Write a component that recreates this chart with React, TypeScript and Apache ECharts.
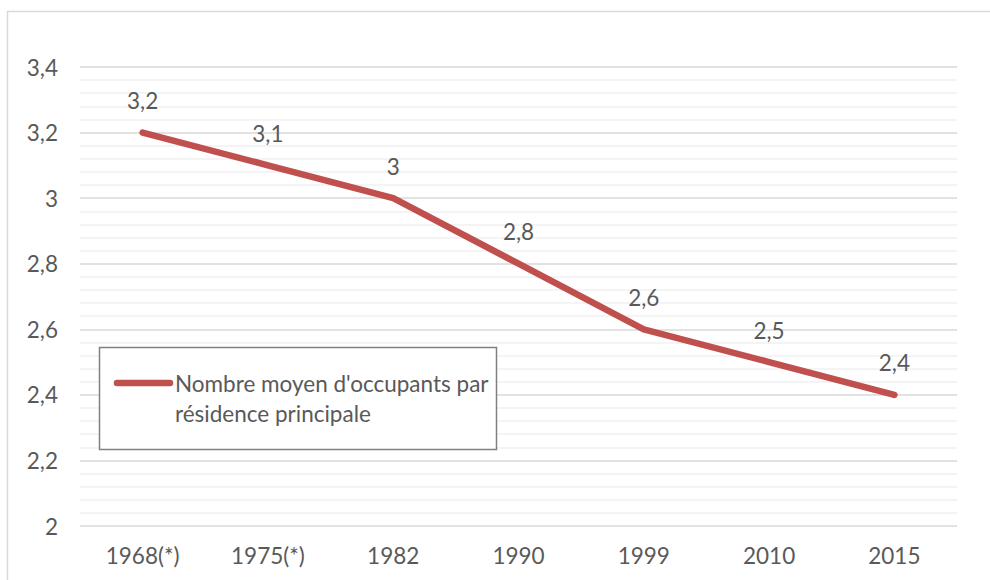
import React, { useEffect, useRef } from "react";
import * as echarts from "echarts";

const categories = ["1968(*)", "1975(*)", "1982", "1990", "1999", "2010", "2015"];
const occupants = [3.2, 3.1, 3.0, 2.8, 2.6, 2.5, 2.4];
const seriesName = "Nombre moyen d'occupants par résidence principale";
const legendLines = ["Nombre moyen d'occupants par", "résidence principale"];
const yTicks = { min: 2, max: 3.4, interval: 0.2 };

const FONT = "Lato, 'Open Sans', sans-serif";
const FS = 22.5;
const TXT = "#595959";
const RED = "#C0504D";
const fmt = (v: number) => String(Math.round(v * 10) / 10).replace(".", ",");

export default function App() {
  const ref = useRef<HTMLDivElement>(null);
  useEffect(() => {
    const chart = echarts.init(ref.current!, null, { renderer: "svg" });
    chart.setOption({
      animation: false,
      backgroundColor: "#ffffff",
      textStyle: { fontFamily: FONT },
      grid: { left: 80, right: 33, top: 67, bottom: 54, containLabel: false },
      legend: { show: false, data: [seriesName] },
      graphic: [
        {
          type: "rect",
          shape: { x: 7.5, y: 11.5, width: 1000, height: 600 },
          style: { fill: "none", stroke: "#d9d9d9", lineWidth: 1.5 },
          z: 0,
        },
        {
          type: "group",
          z: 20,
          children: [
            {
              type: "rect",
              shape: { x: 99.5, y: 347.5, width: 397, height: 102 },
              style: { fill: "#ffffff", stroke: "#808080", lineWidth: 1.5 },
              z: 20,
            },
            {
              type: "line",
              shape: { x1: 117, y1: 383, x2: 170, y2: 383 },
              style: { stroke: RED, lineWidth: 6.5, lineCap: "round" },
              z: 21,
            },
            {
              type: "text",
              x: 175,
              y: 383,
              style: {
                text: legendLines[0],
                fontFamily: FONT,
                fontSize: FS,
                fill: TXT,
                verticalAlign: "middle",
                align: "left",
              },
              z: 21,
            },
            {
              type: "text",
              x: 175,
              y: 413,
              style: {
                text: legendLines[1],
                fontFamily: FONT,
                fontSize: FS,
                fill: TXT,
                verticalAlign: "middle",
                align: "left",
              },
              z: 21,
            },
          ],
        },
      ],
      xAxis: {
        type: "category",
        data: categories,
        boundaryGap: true,
        axisLine: { show: false },
        axisTick: { show: false },
        axisLabel: { color: TXT, fontSize: FS, fontFamily: FONT, margin: 18 },
      },
      yAxis: {
        type: "value",
        min: yTicks.min,
        max: yTicks.max,
        interval: yTicks.interval,
        axisLine: { show: false },
        axisTick: { show: false },
        axisLabel: { color: TXT, fontSize: FS, fontFamily: FONT, margin: 22, formatter: fmt },
        splitLine: { show: true, lineStyle: { color: "#d9d9d9", width: 1.5 } },
        minorTick: { show: false, splitNumber: 5 },
        minorSplitLine: { show: true, lineStyle: { color: "#f0f0f0", width: 1.5 } },
      },
      series: [
        {
          name: seriesName,
          type: "line",
          data: occupants,
          showSymbol: true,
          symbol: "circle",
          symbolSize: 1,
          lineStyle: { color: RED, width: 6.5, cap: "round", join: "round" },
          itemStyle: { color: "rgba(0,0,0,0)", borderWidth: 0 },
          label: {
            show: true,
            position: "top",
            distance: 20,
            color: TXT,
            fontSize: FS,
            fontFamily: FONT,
            formatter: (p: any) => fmt(p.value),
          },
          z: 10,
        },
      ],
    });
    return () => chart.dispose();
  }, []);
  return <div ref={ref} style={{ width: 990, height: 580, position: "absolute", left: 0, top: 0 }} />;
}
